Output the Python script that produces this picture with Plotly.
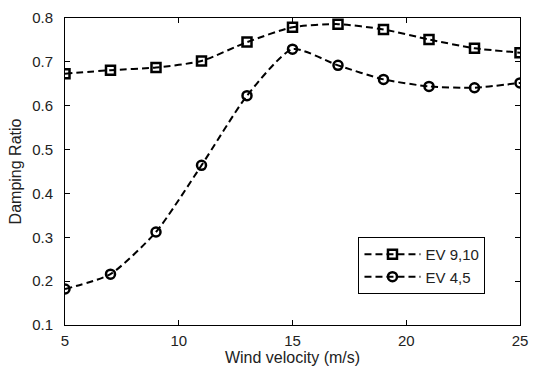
import plotly.graph_objects as go

wind_speed = [5, 7, 9, 11, 13, 15, 17, 19, 21, 23, 25]
ev_9_10 = [0.673, 0.681, 0.687, 0.702, 0.745, 0.779, 0.786, 0.774, 0.751, 0.731, 0.721]
ev_4_5 = [0.182, 0.216, 0.312, 0.464, 0.623, 0.729, 0.692, 0.660, 0.644, 0.641, 0.652]

x_ticks = [5, 10, 15, 20, 25]
y_ticks = [0.1, 0.2, 0.3, 0.4, 0.5, 0.6, 0.7, 0.8]

line_style = dict(color="black", width=2, dash="7px,4px", shape="spline", smoothing=0.6)

fig = go.Figure()
fig.add_trace(go.Scatter(
    x=wind_speed, y=ev_9_10, name="EV 9,10", mode="lines+markers",
    line=line_style,
    marker=dict(symbol="square-open", size=9, color="black", line=dict(width=2.5)),
))
fig.add_trace(go.Scatter(
    x=wind_speed, y=ev_4_5, name="EV 4,5", mode="lines+markers",
    line=line_style,
    marker=dict(symbol="circle-open", size=9, color="black", line=dict(width=2.5)),
))

axis_common = dict(
    showgrid=False, zeroline=False, showline=True, linecolor="black", linewidth=1,
    mirror="ticks", ticks="inside", ticklen=5, tickcolor="black",
    tickfont=dict(family="Liberation Sans, Arial", size=15, color="#222"),
)

fig.update_layout(
    width=537, height=371,
    margin=dict(l=65, r=9, t=16, b=45),
    paper_bgcolor="white", plot_bgcolor="white",
    font=dict(family="Liberation Sans, Arial", size=15, color="#222"),
    xaxis=dict(range=[5, 25], tickvals=x_ticks, ticklabelstandoff=2,
               title=dict(text="Wind velocity (m/s)", standoff=2, font=dict(size=16)),
               **axis_common),
    yaxis=dict(range=[0.1, 0.8], tickvals=y_ticks, tickformat=".1f", ticklabelstandoff=8,
               title=dict(text="Damping Ratio", standoff=6, font=dict(size=16)),
               **axis_common),
    legend=dict(x=0.645, y=0.287, xanchor="left", yanchor="top",
                bgcolor="white", bordercolor="black", borderwidth=1,
                font=dict(size=15), tracegroupgap=0, itemwidth=56),
    showlegend=True,
)

fig.write_html("out.html")
